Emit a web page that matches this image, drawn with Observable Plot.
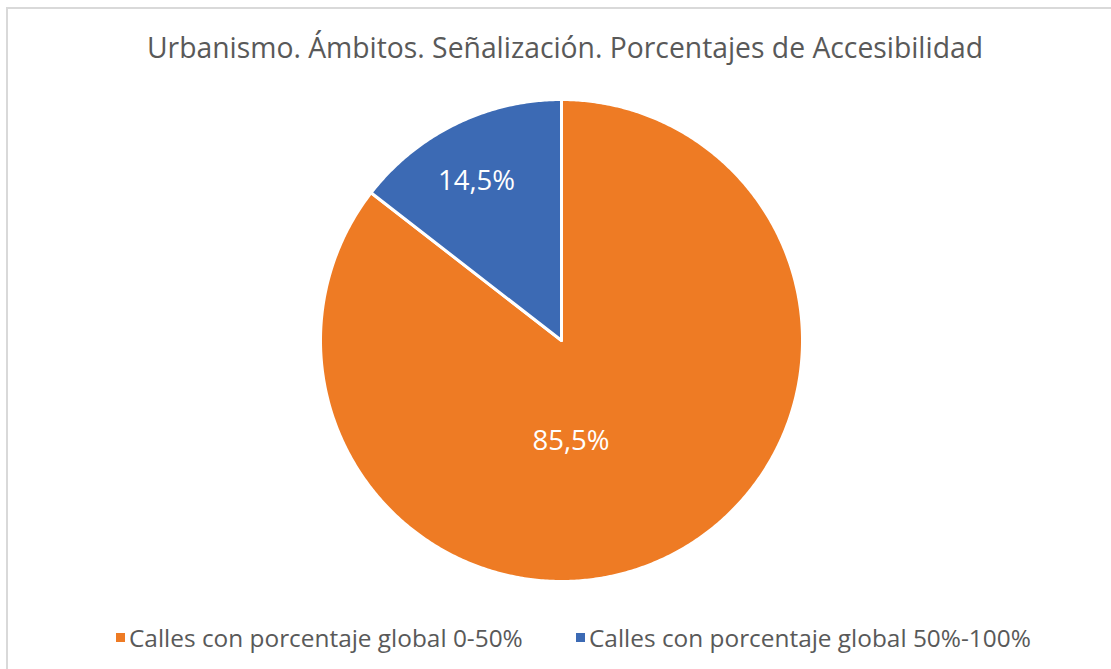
<!DOCTYPE html>
<html>
<head>
<meta charset="utf-8">
<script src="https://cdn.jsdelivr.net/npm/d3@7"></script>
<script src="https://cdn.jsdelivr.net/npm/@observablehq/plot@0.6"></script>
<style>
  html, body { margin: 0; padding: 0; background: #fff; }
  #wrap { position: relative; width: 1111px; height: 669px; overflow: hidden; font-family: "Open Sans", sans-serif; }
  #frame { position: absolute; left: 6px; top: 7px; width: 1200px; height: 800px; border: 2px solid #d9d9d9; box-sizing: border-box; }
  #title { position: absolute; left: 0; width: 1130px; top: 28px; text-align: center; font-size: 28.3px; color: #595959; white-space: nowrap; }
  #chart { position: absolute; left: 0; top: 90px; }
  #legend { position: absolute; left: 0; top: 619px; width: 1111px; height: 36px; font-size: 24.4px; color: #595959; white-space: nowrap; }
  .item { position: absolute; top: 0; display: flex; align-items: center; height: 36px; }
  .sw { width: 9px; height: 9px; margin-right: 4px; display: inline-block; }
</style>
</head>
<body>
<div id="wrap">
  <div id="frame"></div>
  <div id="title">Urbanismo. Ámbitos. Señalización. Porcentajes de Accesibilidad</div>
  <div id="chart"></div>
  <div id="legend"></div>
</div>
<script>
const categories = ["Calles con porcentaje global 0-50%", "Calles con porcentaje global 50%-100%"];
const values = [85.5, 14.5];
const valueLabels = ["85,5%", "14,5%"];
const colors = ["#EE7B24", "#3C6AB4"];

const total = d3.sum(values);
const points = [];
const labelsData = [];
let start = 0;
categories.forEach((cat, i) => {
  const end = start + values[i] / total * 2 * Math.PI;
  points.push({cat, x: 0, y: 0});
  const n = Math.max(2, Math.ceil((end - start) / (Math.PI / 360)));
  for (let k = 0; k <= n; k++) {
    const a = start + (end - start) * k / n;
    points.push({cat, x: Math.sin(a), y: Math.cos(a)});
  }
  points.push({cat, x: 0, y: 0});
  const mid = (start + end) / 2;
  labelsData.push({cat, label: valueLabels[i], mid});
  start = end;
});

// label placement (Excel "best fit"-like)
const lab = labelsData.map((d, i) => {
  const f = i === 0 ? 0.467 : 0.745;
  return {...d, x: f * Math.sin(d.mid), y: f * Math.cos(d.mid)};
});

const cx = 561, cy = 250, r = 241;
const chart = Plot.plot({
  width: 1111,
  height: 500,
  margin: 0,
  x: {domain: [-1, 1], range: [cx - r, cx + r], axis: null},
  y: {domain: [-1, 1], range: [cy + r, cy - r], axis: null},
  color: {domain: categories, range: colors},
  style: {background: "transparent", overflow: "visible"},
  marks: [
    Plot.line(points, {x: "x", y: "y", z: "cat", fill: "cat", stroke: "white", strokeWidth: 3, curve: "linear"}),
    Plot.text(lab.filter((d, i) => i === 0), {x: "x", y: "y", text: "label", fill: "white", fontSize: 27.5, fontFamily: "Open Sans", dx: -40}),
    Plot.text(lab.filter((d, i) => i === 1), {x: "x", y: "y", text: "label", fill: "white", fontSize: 27.5, fontFamily: "Open Sans", dx: -6, dy: 2})
  ]
});
document.getElementById("chart").appendChild(chart);

const legend = document.getElementById("legend");
const lefts = [116, 576];
categories.forEach((c, i) => {
  const it = document.createElement("div");
  it.className = "item";
  it.style.left = lefts[i] + "px";
  const sw = document.createElement("span");
  sw.className = "sw";
  sw.style.background = colors[i];
  const t = document.createElement("span");
  t.textContent = c;
  it.appendChild(sw); it.appendChild(t);
  legend.appendChild(it);
});
</script>
</body>
</html>
